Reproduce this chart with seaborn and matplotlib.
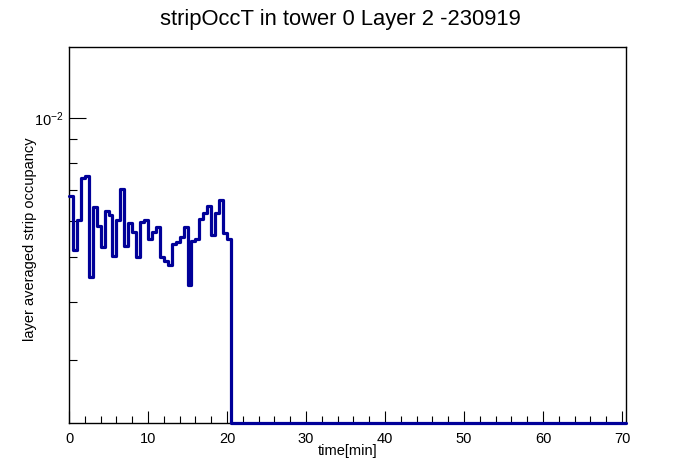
import numpy as np
import pandas as pd
import matplotlib
matplotlib.use("Agg")
import matplotlib.pyplot as plt
import seaborn as sns
from matplotlib.ticker import FixedLocator, NullFormatter, FixedFormatter, MultipleLocator

# layer averaged strip occupancy per 0.5 min bin
occupancy_run = [6.79e-3, 5.20e-3, 6.02e-3, 7.42e-3, 7.52e-3, 4.53e-3, 6.43e-3, 5.86e-3,
                 5.26e-3, 6.31e-3, 6.18e-3, 5.04e-3, 6.02e-3, 7.02e-3, 5.30e-3, 5.94e-3,
                 5.67e-3, 5.00e-3, 5.97e-3, 6.02e-3, 5.47e-3, 5.67e-3, 5.83e-3, 5.02e-3,
                 4.92e-3, 4.81e-3, 5.36e-3, 5.41e-3, 5.53e-3, 5.83e-3, 4.35e-3, 5.43e-3,
                 5.47e-3, 6.07e-3, 6.25e-3, 6.47e-3, 5.58e-3, 6.23e-3, 6.65e-3, 5.65e-3,
                 5.47e-3]
occupancy_empty = [0.0] * 100
occupancy = occupancy_run + occupancy_empty
bin_width = 0.5

title = "stripOccT in tower 0 Layer 2 -230919"
xlabel = "time[min]"
ylabel = "layer averaged strip occupancy"
xticks = [0, 10, 20, 30, 40, 50, 60, 70]
ymin, ymax = 2.19e-3, 1.426e-2

sns.set_style("white")
plt.rcParams['font.family'] = ['Liberation Sans', 'DejaVu Sans']
plt.rcParams['mathtext.fontset'] = 'custom'
plt.rcParams['mathtext.rm'] = 'Liberation Sans'
plt.rcParams['mathtext.it'] = 'Liberation Sans'
for key in ['text.color', 'axes.labelcolor', 'xtick.color', 'ytick.color']:
    plt.rcParams[key] = 'black'

fig = plt.figure(figsize=(6.96, 4.72), dpi=100)
ax = fig.add_axes([69/696, 1-423.3/472, (626-69)/696, (423.3-47)/472])

edges = np.arange(len(occupancy) + 1) * bin_width
vals = np.array(occupancy + [occupancy[-1]])
df = pd.DataFrame({"time": edges, "occ": np.clip(vals, ymin, None)})

sns.lineplot(data=df, x="time", y="occ", drawstyle="steps-post", estimator=None,
             color="#000099", lw=2.3, ax=ax, clip_on=False, zorder=5)

ax.set_yscale("log")
ax.set_xlim(0, edges[-1])
ax.set_ylim(ymin, ymax)

ax.xaxis.set_major_locator(FixedLocator(xticks))
ax.xaxis.set_minor_locator(MultipleLocator(2))
ax.yaxis.set_major_locator(FixedLocator([1e-2]))
ax.yaxis.set_major_formatter(FixedFormatter([r"$10^{-2}$"]))
ax.yaxis.set_minor_locator(FixedLocator([3e-3, 4e-3, 5e-3, 6e-3, 7e-3, 8e-3, 9e-3]))
ax.yaxis.set_minor_formatter(NullFormatter())

ax.tick_params(axis="x", which="major", direction="in", length=8.6, width=0.8,
               labelsize=10.5, pad=6, bottom=True, top=False)
ax.tick_params(axis="x", which="minor", direction="in", length=4.7, width=0.8,
               bottom=True, top=False)
ax.tick_params(axis="y", which="major", direction="in", length=12.2, width=0.8,
               labelsize=10.5, pad=4, left=True, right=False)
ax.tick_params(axis="y", which="minor", direction="in", length=5.8, width=0.8,
               left=True, right=False)

for s in ax.spines.values():
    s.set_linewidth(1.0)
    s.set_color("black")
    s.set_visible(True)

ax.set_xlabel("")
ax.set_ylabel("")
fig.text(348/696, 1-451/472, xlabel, ha="center", va="center", fontsize=10.5)
fig.text(30/696, 1-239/472, ylabel, ha="center", va="center", rotation=90, fontsize=10.5)
fig.text(340/696, 1-19/472, title, ha="center", va="center", fontsize=15.8)

fig.savefig("out.png", dpi=100, facecolor="white")
